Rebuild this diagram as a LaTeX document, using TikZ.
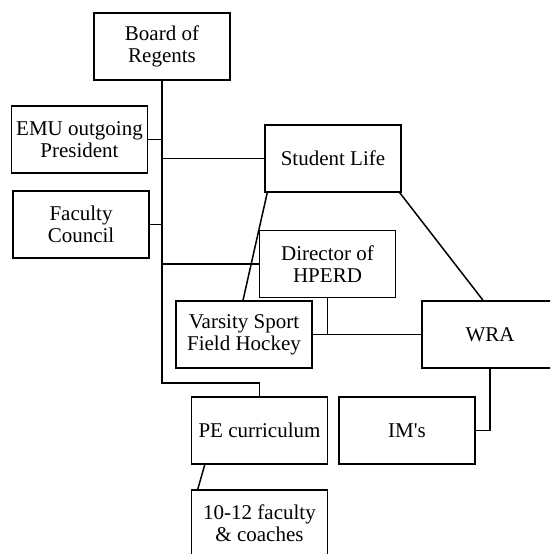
\documentclass[tikz,border=0pt]{standalone}
\usepackage{fontspec}
\setmainfont{Liberation Serif}
\usepackage{tikz}
\usetikzlibrary{positioning}

\begin{document}
\begin{tikzpicture}[
  x=1pt, y=-1pt,
  unit/.style={rectangle, draw=black, fill=white, line width=1.5pt, minimum width=136pt, minimum height=67pt, align=center, inner sep=0pt, font=\fontsize{21}{22}\selectfont},
  link/.style={draw=black, line width=1.5pt}
]
\useasboundingbox (0,0) rectangle (550,554);
\clip (0,0) rectangle (550,554);

\node[unit] (regents) at (162,46.5) {Board of\\Regents};
\node[unit] (emu) at (79.5,139.5) {EMU outgoing\\President};
\node[unit] (faculty) at (81,224.5) {Faculty\\Council};
\node[unit] (studlife) at (333,158.5) {Student Life};
\node[unit] (hperd) at (327.5,264) {Director of\\HPERD};
\node[unit] (varsity) at (244,334.5) {Varsity Sport\\Field Hockey};
\node[unit] (wra) at (490,334.5) {WRA};
\node[unit] (pecurr) at (259.5,430.5) {PE curriculum};
\node[unit] (ims) at (407,430.5) {IM\textquotesingle s};
\node[unit] (coaches) at (259.5,523.5) {10-12 faculty\\\& coaches};

\coordinate (trunk) at (regents.south |- 0,383);

% main line from the Regents
\draw[link] (regents.south) -- (trunk) -| (pecurr.north);
\draw[link] (emu.east) -- (regents.south |- emu.east);
\draw[link] (faculty.east) -- (regents.south |- faculty.east);
\draw[link] (regents.south |- studlife.west) -- (studlife.west);
\draw[link] (regents.south |- hperd.west) -- (hperd.west);

% under Student Life
\draw[link] ([xshift=3pt]studlife.south west) -- ([xshift=-1pt]varsity.north);
\draw[link] ([xshift=-2pt]studlife.south east) -- ([xshift=-7pt]wra.north);
\draw[link] (varsity.east) -- (wra.west);
\draw[link] (hperd.south) -- (hperd.south |- varsity.east);
\draw[link] (wra.south) |- (ims.east);
\draw[link] ([xshift=14pt]pecurr.south west) -- ([xshift=7pt]coaches.north west);

\end{tikzpicture}
\end{document}
